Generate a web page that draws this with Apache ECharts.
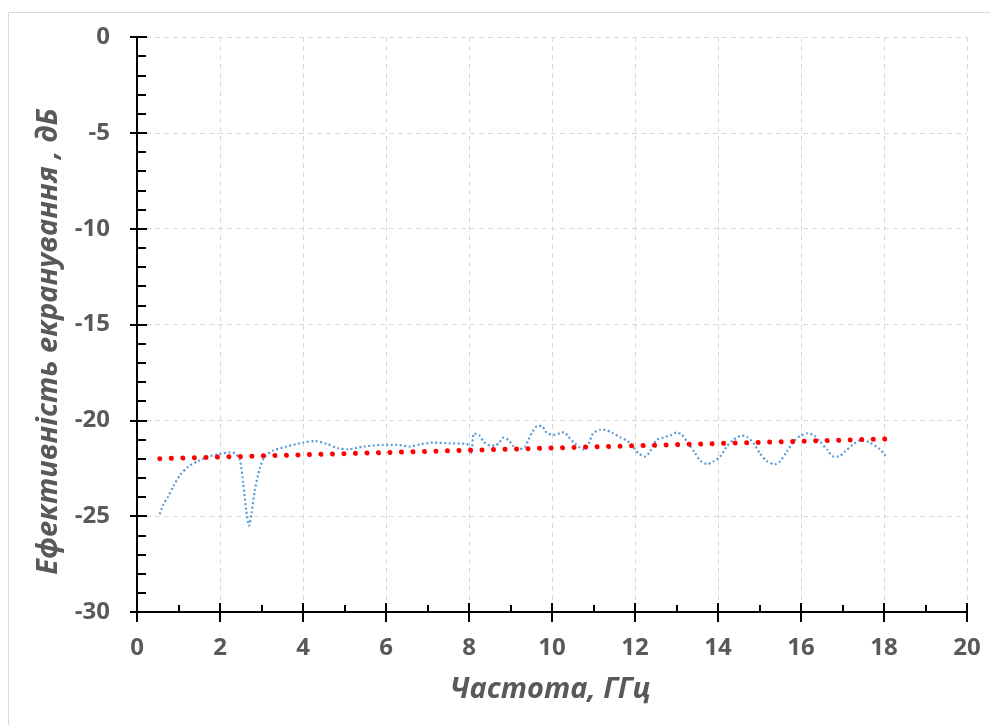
<!DOCTYPE html>
<html>
<head>
<meta charset="utf-8">
<script src="https://cdn.jsdelivr.net/npm/echarts@6/dist/echarts.min.js"></script>
<style>
  html, body { margin: 0; padding: 0; background: #fff; }
  #chart { width: 990px; height: 725px; }
</style>
</head>
<body>
<div id="chart"></div>
<script>
// виміряна крива (частота, ГГц / ефективність, дБ)
var freqGHz = [0.55, 0.63, 0.75, 0.88, 1.04, 1.24, 1.48, 1.72, 1.96, 2.24, 2.36, 2.48, 2.56, 2.63, 2.70, 2.76, 2.84, 2.96,
  3.08, 3.28, 3.6, 4.01, 4.29, 4.57, 4.85, 5.09, 5.45, 5.93, 6.26, 6.58, 6.82, 7.14, 7.54, 7.94, 8.02, 8.06, 8.12, 8.25,
  8.35, 8.51, 8.63, 8.73, 8.83, 8.95, 9.07, 9.21, 9.35, 9.43, 9.53, 9.65, 9.75, 9.87, 10.03, 10.19, 10.29, 10.39, 10.55,
  10.67, 10.75, 10.87, 10.99, 11.16, 11.28, 11.44, 11.64, 11.8, 11.92, 12.08, 12.24, 12.36, 12.52, 12.68, 12.88, 12.99,
  13.12, 13.28, 13.45, 13.57, 13.73, 13.89, 14.05, 14.21, 14.37, 14.57, 14.69, 14.86, 15.01, 15.17, 15.37, 15.49, 15.66,
  15.82, 15.98, 16.14, 16.3, 16.46, 16.63, 16.79, 16.91, 17.06, 17.26, 17.46, 17.66, 17.9, 18.04];
var shieldingDb = [-24.9, -24.4, -23.98, -23.42, -22.85, -22.41, -22.12, -21.89, -21.77, -21.67, -21.72, -22.07, -23.28,
  -24.67, -25.5, -24.85, -23.63, -22.5, -21.89, -21.58, -21.37, -21.16, -21.08, -21.23, -21.46, -21.51, -21.37, -21.28,
  -21.28, -21.37, -21.25, -21.16, -21.2, -21.23, -21.45, -21.72, -20.68, -20.79, -21.11, -21.32, -21.32, -21.16, -20.9,
  -21.02, -21.34, -21.51, -21.37, -21.02, -20.59, -20.29, -20.29, -20.64, -20.76, -20.68, -20.62, -20.85, -21.2, -21.42,
  -21.51, -21.28, -20.68, -20.5, -20.5, -20.64, -20.88, -21.06, -21.28, -21.72, -21.89, -21.63, -21.02, -20.9, -20.76,
  -20.64, -20.73, -21.2, -21.72, -22.1, -22.28, -22.15, -21.89, -21.37, -21.02, -20.8, -20.85, -21.2, -21.72, -22.12,
  -22.29, -22.15, -21.63, -21.11, -20.81, -20.68, -20.76, -21.11, -21.54, -21.89, -21.89, -21.63, -21.25, -21.02, -21.16,
  -21.51, -21.86];

// лінійний тренд (кінцеві точки)
var trendFreq = [0.55, 18.05];
var trendDb = [-22.0, -20.97];

var xTitle = 'Частота, ГГц';
var yTitle = 'Ефективність екранування , дБ';

function pairs(xs, ys) {
  return xs.map(function (x, i) { return [x, ys[i]]; });
}

var textColor = '#595959';
var font = '"Open Sans", "Noto Sans", sans-serif';

var myChart = echarts.init(document.getElementById('chart'));

var tickLabel = { color: textColor, fontFamily: font, fontWeight: 'bold', fontSize: 24 };
var gridLine = { show: true, lineStyle: { color: '#d9d9d9', type: [5, 4], width: 1 } };
var blackTick = { color: '#000', width: 2 };
var box = { left: 137, right: 23, top: 37, bottom: 113 };

myChart.setOption({
  animation: false,
  backgroundColor: '#fff',
  graphic: [{
    type: 'rect',
    shape: { x: 8.5, y: 12.5, width: 990, height: 720 },
    style: { fill: null, stroke: '#d9d9d9', lineWidth: 1 },
    silent: true
  }, {
    type: 'text',
    left: 450, top: 675,
    style: { text: xTitle, fill: textColor, font: 'italic bold 29px ' + font }
  }],
  // друга сітка лише для зовнішніх рисок (риски перетинають осі)
  grid: [box, box],
  xAxis: [{
    type: 'value', min: 0, max: 20, interval: 2, gridIndex: 0,
    axisLine: { onZero: false, lineStyle: { color: '#000', width: 2 } },
    axisTick: { inside: true, length: 9, lineStyle: blackTick },
    minorTick: { show: true, splitNumber: 2, length: 7, lineStyle: blackTick },
    axisLabel: Object.assign({ margin: 24 }, tickLabel),
    splitLine: gridLine
  }, {
    type: 'value', min: 0, max: 20, interval: 2, gridIndex: 1,
    axisLine: { show: false, onZero: false },
    axisTick: { inside: false, length: 10, lineStyle: blackTick },
    axisLabel: { show: false },
    splitLine: { show: false }
  }],
  yAxis: [{
    type: 'value', min: -30, max: 0, interval: 5, gridIndex: 0,
    name: yTitle, nameLocation: 'middle', nameGap: 74, nameRotate: 90,
    nameTextStyle: { color: textColor, fontFamily: font, fontWeight: 'bold', fontStyle: 'italic', fontSize: 29, padding: [0, 34, 0, 0] },
    axisLine: { show: true, onZero: false, lineStyle: { color: '#000', width: 2 } },
    axisTick: { show: true, inside: true, length: 10, lineStyle: blackTick },
    minorTick: { show: true, splitNumber: 5, length: 9, lineStyle: blackTick },
    axisLabel: Object.assign({ margin: 27 }, tickLabel),
    splitLine: gridLine
  }, {
    type: 'value', min: -30, max: 0, interval: 5, gridIndex: 1,
    axisLine: { show: false, onZero: false },
    axisTick: { show: true, inside: false, length: 7, lineStyle: blackTick },
    axisLabel: { show: false },
    splitLine: { show: false }
  }],
  series: [{
    type: 'line',
    data: pairs(freqGHz, shieldingDb),
    showSymbol: false,
    smooth: 0.25,
    lineStyle: { color: '#5b9bd5', width: 2.2, type: [2, 2.5] },
    z: 3
  }, {
    type: 'line',
    data: pairs(trendFreq, trendDb),
    showSymbol: false,
    lineStyle: { color: '#ff0000', width: 5, type: [0.01, 11.5], cap: 'round' },
    z: 4
  }]
});
</script>
</body>
</html>
